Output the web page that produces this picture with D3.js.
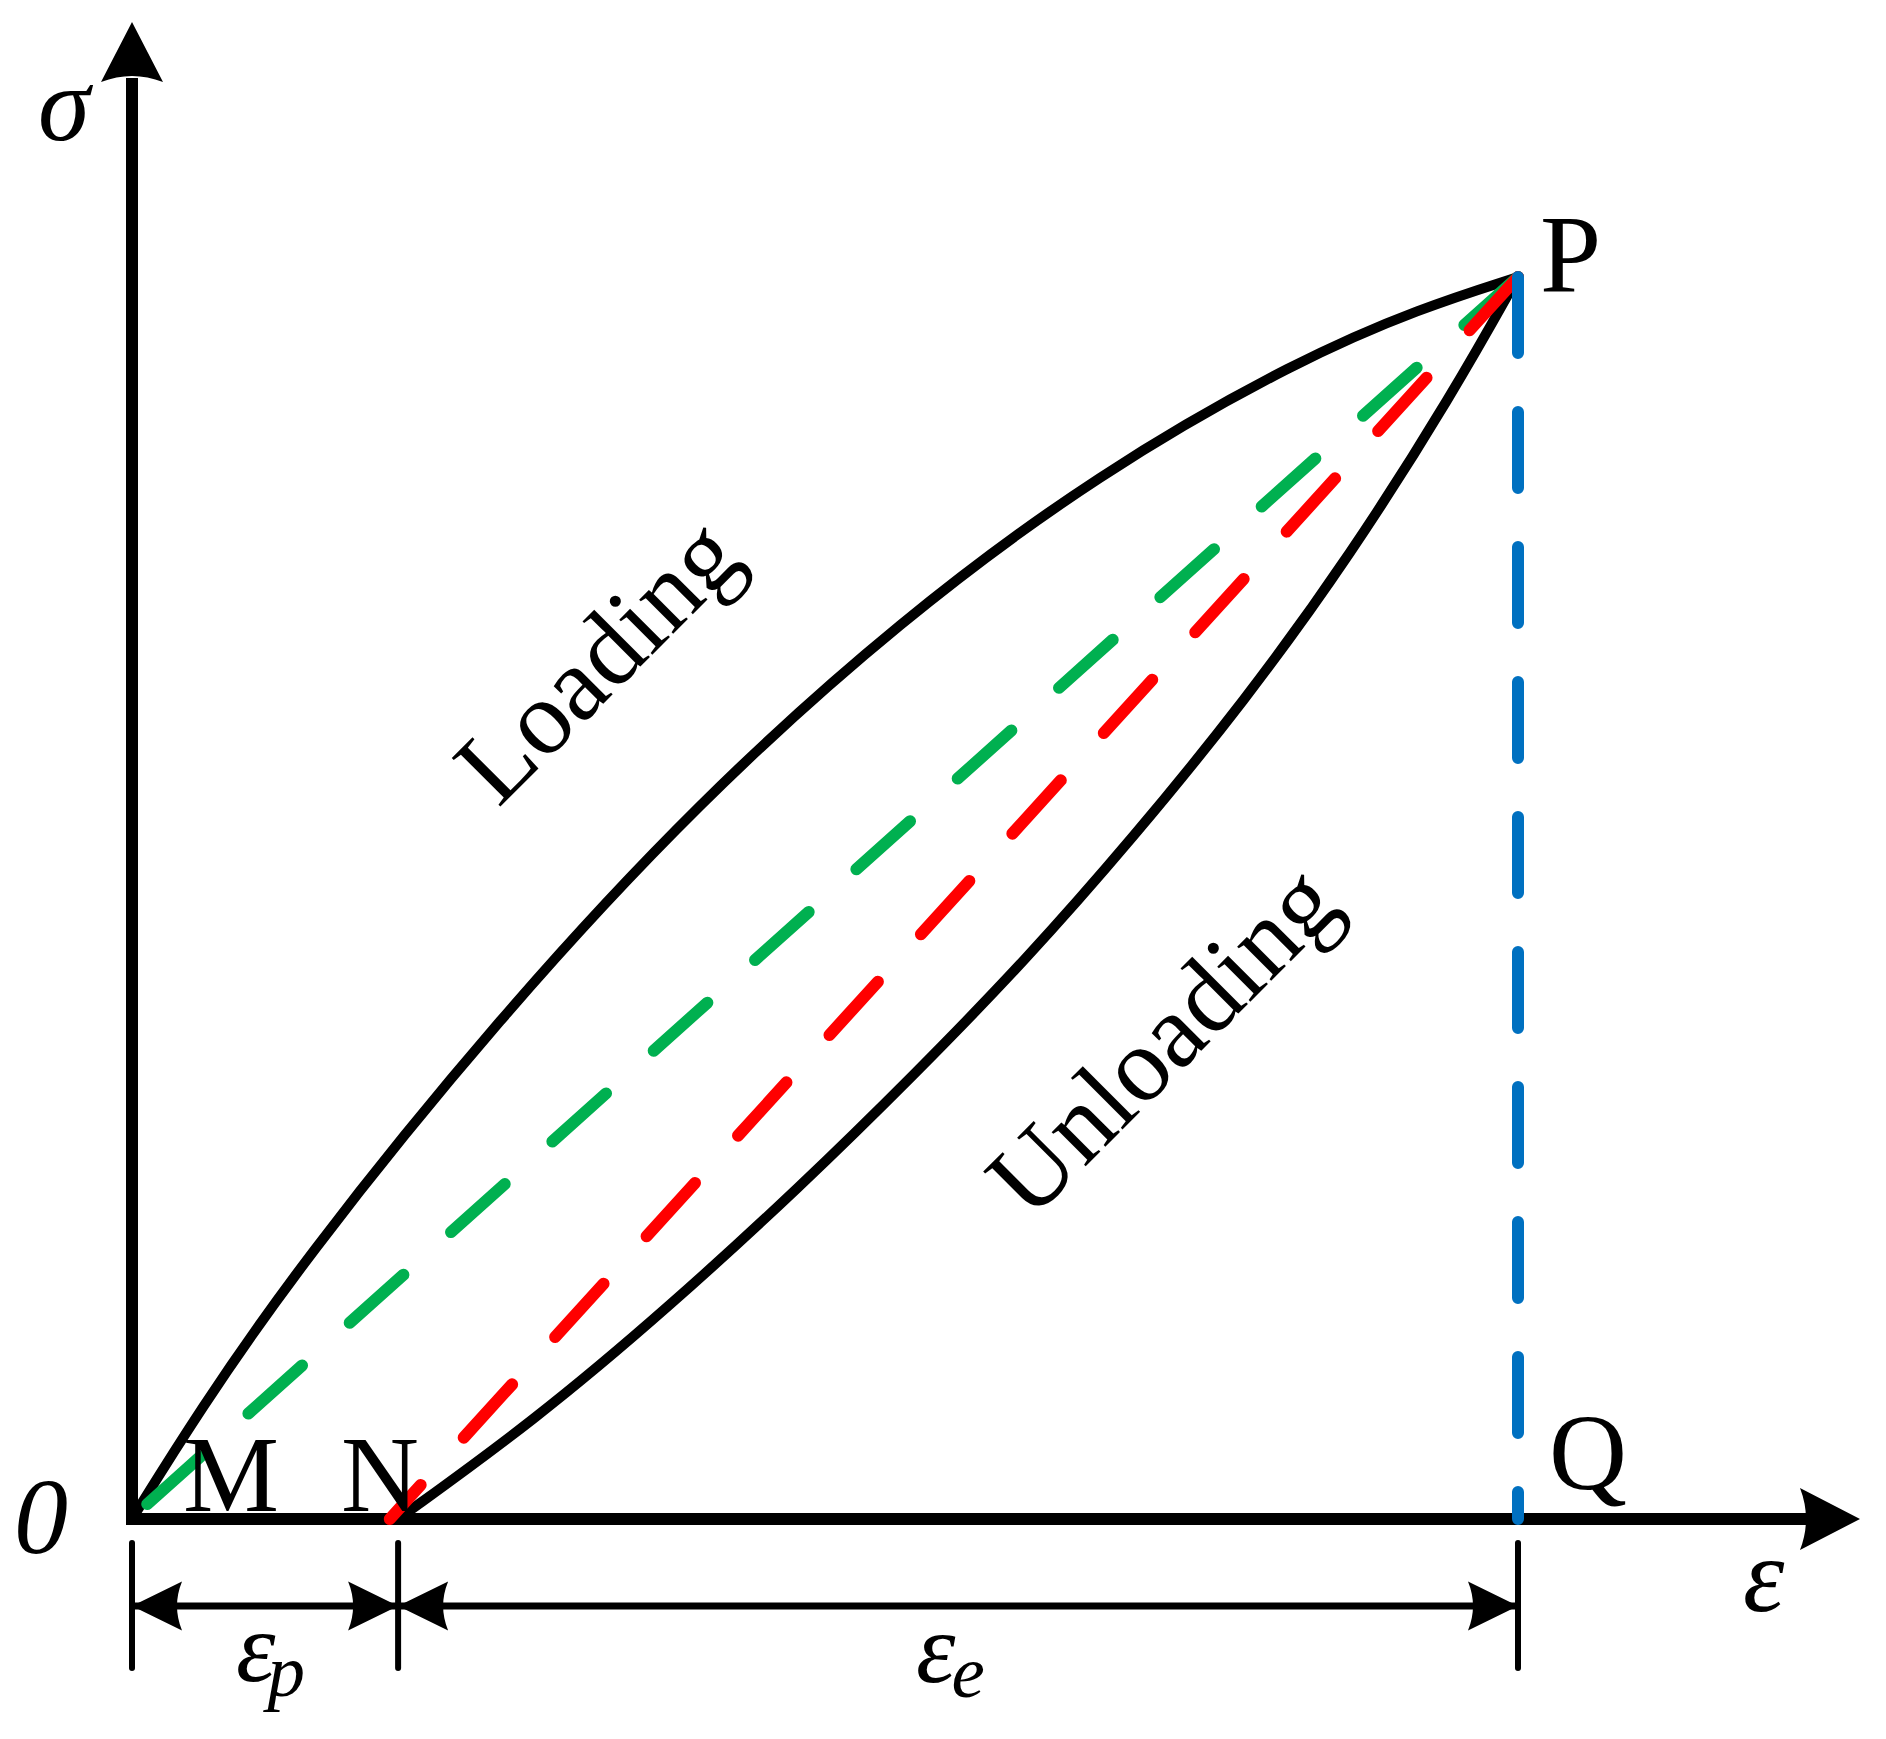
<!DOCTYPE html>
<html><head><meta charset="utf-8">
<script src="https://cdn.jsdelivr.net/npm/d3@7"></script>
<style>html,body{margin:0;padding:0;background:#fff;} svg{display:block;} text{font-family:"Liberation Serif","Times New Roman",Times,serif;}</style>
</head><body>
<svg id="c" width="1886" height="1739"></svg>
<script>
// ---- data (strain ε and stress σ, normalised so that P = (1,1)) ----
const loadingStrain   = [0, 0.047, 0.1212, 0.2655, 0.4098, 0.5541, 0.6984, 0.8427, 0.9300, 1];
const loadingStress   = [0, 0.0845, 0.2053, 0.4050, 0.5789, 0.7238, 0.8430, 0.9340, 0.9750, 1];
const unloadingStrain = [0.192, 0.290, 0.3867, 0.4834, 0.5635, 0.6443, 0.7222, 0.8023, 0.8788, 0.9531, 1];
const unloadingStress = [0, 0.0789, 0.1699, 0.2689, 0.3567, 0.4493, 0.5483, 0.6578, 0.7754, 0.9066, 1];
const peakStrain = 1, peakStress = 1;          // P
const plasticStrain = 0.192;                   // N  (εp)
const greenStart = [0.011, 0.012];             // secant from near 0 to P
const redStart = [0.186, 0.0];                 // chord from N to P
const dimTicks = [0, plasticStrain, peakStrain];
const curveLabels = ["Loading", "Unloading"];
const pointLabels = ["0", "M", "N", "P", "Q"];
const axisLabels = ["σ", "ε"];
const dimLabels = [["ε", "p"], ["ε", "e"]];

// ---- scales ----
const x = d3.scaleLinear().domain([0, 1]).range([132, 1518]);
const y = d3.scaleLinear().domain([0, 1]).range([1519, 277]);

const svg = d3.select("#c");
svg.append("rect").attr("width", 1886).attr("height", 1739).attr("fill", "#fff");

function arrowHead(g, tx, ty, angle, L, H, c) {
  g.append("path")
    .attr("d", `M0,0 L${-L},${-H} Q${-(L - 2 * c)},0 ${-L},${H} Z`)
    .attr("transform", `translate(${tx},${ty}) rotate(${angle})`)
    .attr("fill", "#000");
}

// ---- axes ----
const ax = svg.append("g");
ax.append("line").attr("x1", x(0)).attr("x2", x(0)).attr("y1", y(0) + 6).attr("y2", 78)
  .attr("stroke", "#000").attr("stroke-width", 12);
ax.append("line").attr("x1", x(0) - 6).attr("x2", 1806).attr("y1", y(0)).attr("y2", y(0))
  .attr("stroke", "#000").attr("stroke-width", 12);
arrowHead(ax, x(0), 22, -90, 60, 31, 6);
arrowHead(ax, 1860, y(0), 0, 60, 31, 6);

// ---- curves ----
const line = d3.line().x(d => x(d[0])).y(d => y(d[1])).curve(d3.curveBasis);
const loadPts = loadingStrain.map((e, i) => [e, loadingStress[i]]);
const unloadPts = unloadingStrain.map((e, i) => [e, unloadingStress[i]]);
svg.append("path").attr("d", line(loadPts)).attr("fill", "none")
  .attr("stroke", "#000").attr("stroke-width", 10);
svg.append("path").attr("d", line(unloadPts)).attr("fill", "none")
  .attr("stroke", "#000").attr("stroke-width", 10);

// ---- dashed lines (start at P) ----
const straight = d3.line().x(d => x(d[0])).y(d => y(d[1]));
svg.append("path").attr("d", straight([[peakStrain, peakStress], greenStart]))
  .attr("fill", "none").attr("stroke", "#00B050").attr("stroke-width", 12)
  .attr("stroke-linecap", "round").attr("stroke-dasharray", "72,64");
svg.append("path").attr("d", straight([[peakStrain, peakStress], redStart]))
  .attr("fill", "none").attr("stroke", "#FF0000").attr("stroke-width", 12)
  .attr("stroke-linecap", "round").attr("stroke-dasharray", "72,64");
svg.append("path").attr("d", straight([[peakStrain, peakStress], [peakStrain, 0]]))
  .attr("fill", "none").attr("stroke", "#0070C0").attr("stroke-width", 12)
  .attr("stroke-linecap", "round").attr("stroke-dasharray", "76,59");

// ---- dimension lines ----
const dim = svg.append("g");
const dimY = 1606;
dim.append("line").attr("x1", x(0)).attr("x2", x(peakStrain)).attr("y1", dimY).attr("y2", dimY)
  .attr("stroke", "#000").attr("stroke-width", 7);
dim.selectAll("line.tick").data(dimTicks).enter().append("line").attr("class", "tick")
  .attr("x1", d => x(d)).attr("x2", d => x(d)).attr("y1", 1543).attr("y2", 1668)
  .attr("stroke", "#000").attr("stroke-width", 6).attr("stroke-linecap", "round");
arrowHead(dim, x(0), dimY, 180, 50, 24.5, 5);
arrowHead(dim, x(plasticStrain), dimY, 0, 50, 24.5, 5);
arrowHead(dim, x(plasticStrain), dimY, 180, 50, 24.5, 5);
arrowHead(dim, x(peakStrain), dimY, 0, 50, 24.5, 5);

// ---- text ----
function txt(s, tx, ty, size, italic, anchor) {
  return svg.append("text").attr("x", tx).attr("y", ty).text(s)
    .attr("font-size", size)
    .attr("font-style", italic ? "italic" : "normal")
    .attr("text-anchor", anchor || "start").attr("fill", "#000");
}
txt(axisLabels[0], 38, 140, 105, true);
txt(axisLabels[1], 1743, 1611, 105, true);
txt(pointLabels[0], 14, 1553, 108, true);
txt(pointLabels[1], x(0) + 51, y(0) - 8, 108, false);
txt(pointLabels[2], x(plasticStrain) - 57, y(0) - 8, 108, false);
txt(pointLabels[3], x(peakStrain) + 22, y(peakStress) + 14, 110, false);
txt(pointLabels[4], x(peakStrain) + 31, y(0) - 30, 108, false);

function subLabel(lbl, tx, ty, subDx) {
  const t = txt(lbl[0], tx, ty, 100, true);
  t.append("tspan").attr("font-size", 75).attr("dx", subDx).attr("dy", 15).text(lbl[1]);
}
subLabel(dimLabels[0], 236, 1681, -8);
subLabel(dimLabels[1], 916, 1682, -4);

svg.append("text").text(curveLabels[0]).attr("transform", "translate(622,685) rotate(-45)")
  .attr("font-size", 105).attr("text-anchor", "middle");
svg.append("text").text(curveLabels[1]).attr("transform", "translate(1187,1065) rotate(-45)")
  .attr("font-size", 105).attr("text-anchor", "middle");
</script>
</body></html>
